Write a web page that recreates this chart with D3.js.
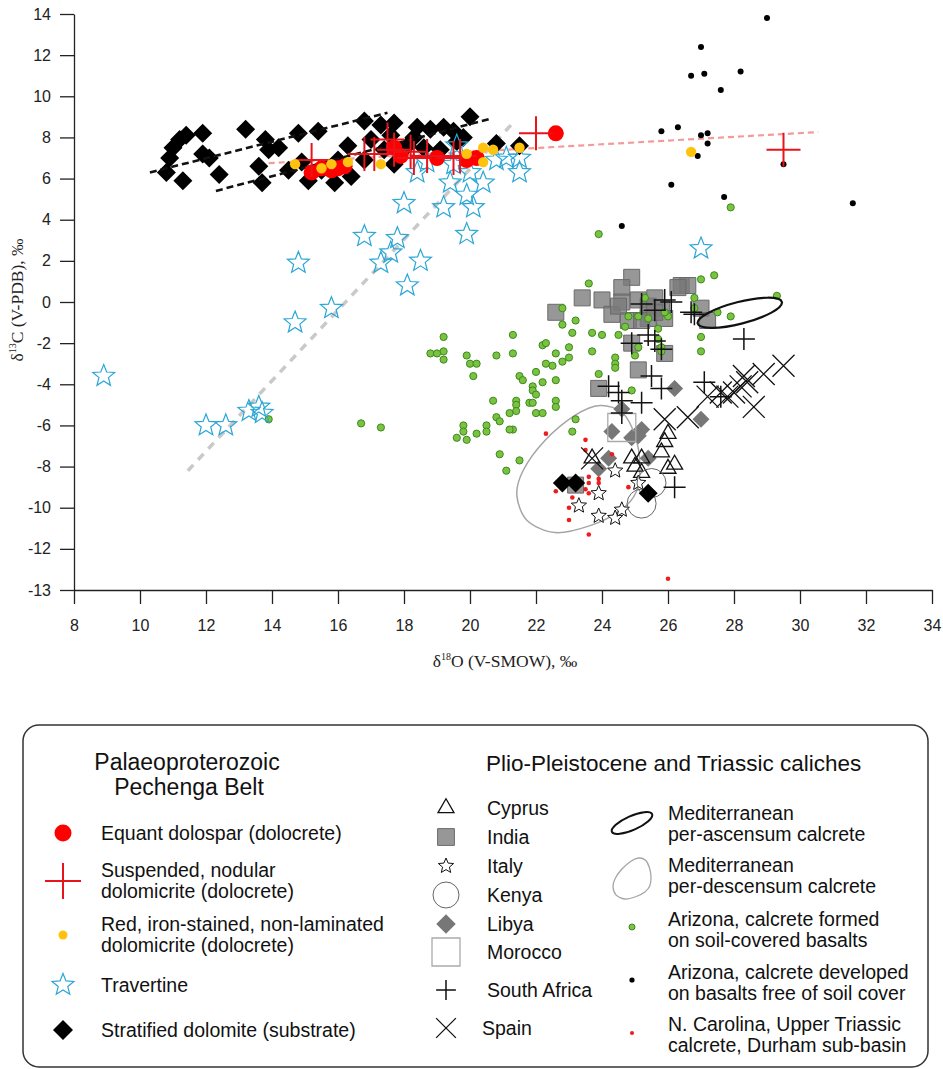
<!DOCTYPE html>
<html>
<head>
<meta charset="utf-8">
<title>d13C vs d18O caliche plot</title>
<script src="https://cdn.jsdelivr.net/npm/d3@7"></script>
<style>
  body { margin: 0; background: #fff; font-family: "Liberation Sans", Arial, sans-serif; }
</style>
</head>
<body>
<script>
// axis ticks (bottom label of the y axis reads -13 in the source figure)
const xTicks = d3.range(8, 35, 2);
const yTicks = [14, 12, 10, 8, 6, 4, 2, 0, -2, -4, -6, -8, -10, -12, -14];
const yTickLabels = ["14", "12", "10", "8", "6", "4", "2", "0", "-2", "-4", "-6", "-8", "-10", "-12", "-13"];

// Pechenga Belt  [d18O, d13C]
const stratifiedDolomite = [[10.8,6.3],[10.9,7.0],[11.0,7.5],[11.2,7.9],[11.4,8.1],[11.9,8.2],[11.9,7.2],[12.1,7.0],[11.3,5.9],
  [12.4,6.2],[13.2,8.4],[13.8,7.9],[13.9,7.4],[14.2,7.5],[14.8,8.2],[15.4,8.3],[13.6,6.6],[13.7,5.8],[14.5,6.4],[15.1,5.9],
  [15.9,5.8],[16.4,6.1],[16.3,7.6],[16.8,8.8],[17.3,8.6],[17.7,8.7],[18.4,8.5],[18.8,8.4],[19.2,8.5],[19.5,8.3],[18.3,8.0],
  [19.6,7.8],[19.8,8.0],[18.1,7.6],[18.6,7.5],[20.0,9.0],[20.8,7.7],[21.5,7.6],[17.0,7.9],[17.6,8.1],[17.4,7.4],[17.9,7.3],
  [19.1,7.4],[16.8,6.9],[15.5,6.4],[14.9,6.8],[16.0,6.9],[17.7,6.7],[22.8,-8.8],[23.2,-8.8],[25.4,-9.3]];
const travertine = [[8.9,-3.6],[12.0,-6.0],[12.6,-6.0],[13.3,-5.3],[13.6,-5.1],[13.7,-5.4],[14.7,-1.0],[15.8,-0.3],[14.8,1.9],
  [16.8,3.2],[17.8,3.1],[17.6,2.4],[17.3,1.9],[18.5,2.0],[18.1,0.8],[18.0,4.8],[19.2,4.6],[19.9,3.3],[20.1,4.6],[19.9,5.2],
  [19.4,5.8],[20.4,5.8],[21.5,6.3],[18.4,6.3],[18.7,6.8],[20.8,6.9],[21.5,7.0],[27.0,2.6],[19.5,6.7],[20.0,6.3],[21.1,7.0],[19.6,7.6]];
const equantDolospar = [[22.6,8.2],[17.7,7.5],[17.9,7.1],[19.0,7.0],[19.9,6.9],[20.2,7.0],[16.0,6.5],[16.2,6.6],[15.8,6.4],[15.5,6.5],[15.2,6.3]];
const nodularDolomicrite = [[15.2,6.9],[16.8,7.2],[17.1,7.2],[17.5,7.9],[17.7,7.4],[18.2,7.3],[18.3,7.0],[18.7,7.1],[19.5,7.0],[19.7,7.1],[22.0,8.2],[29.5,7.4]];
const ironStained = [[14.7,6.7],[15.5,6.5],[15.8,6.7],[16.3,6.8],[17.3,6.7],[19.9,7.2],[20.4,7.5],[20.4,6.8],[20.7,7.4],[21.5,7.5],[26.7,7.3]];

// Plio-Pleistocene and Triassic caliches
const cyprus = [[23.7,-7.6],[24.9,-7.6],[25.2,-7.6],[25.0,-8.0],[25.2,-8.3],[25.9,-6.8],[26.0,-6.4],[25.8,-7.3],[26.2,-7.9],[26.0,-8.1]];
const india = [[24.9,1.2],[24.6,0.7],[23.4,0.2],[22.6,-0.5],[24.0,0.1],[24.3,-0.6],[24.6,0.0],[24.8,-0.9],[25.1,0.1],[25.4,-0.2],
  [25.6,0.2],[25.8,-0.3],[25.9,-0.8],[26.4,0.8],[26.6,0.8],[26.3,0.7],[27.0,-0.3],[27.2,-0.9],[25.4,-0.8],[24.9,-2.0],[25.9,-2.5],
  [25.1,-3.3],[23.9,-4.2],[23.2,-8.9],[24.5,-0.2],[25.2,-0.9],[25.6,-0.5]];
const italy = [[24.4,-8.2],[23.9,-9.3],[23.3,-9.9],[23.9,-10.4],[24.4,-10.5],[24.6,-10.1],[25.1,-8.8]];
const kenya = [[25.5,-8.8],[25.2,-9.8]];
const libya = [[26.2,-4.2],[27.0,-5.7],[24.6,-5.2],[24.3,-6.3],[25.2,-6.2],[25.1,-6.5],[24.9,-6.6],[24.2,-7.6],[23.9,-8.1],[25.4,-7.6]];
const morocco = [[24.6,-6.1]];
const southAfrica = [[25.2,-0.1],[25.6,-0.4],[25.9,0.1],[26.1,0.0],[26.7,-0.5],[25.4,-1.6],[25.6,-1.9],[24.9,-2.0],[25.8,-2.3],
  [25.5,-3.6],[25.8,-4.2],[24.2,-4.1],[24.5,-4.4],[24.6,-4.8],[25.2,-4.9],[24.6,-5.4],[27.1,-3.9],[27.6,-4.6],[28.3,-1.8],[26.2,-9.0],[26.8,-0.6]];
const spain = [[29.5,-3.1],[28.9,-3.5],[28.3,-3.6],[28.4,-3.9],[28.2,-4.1],[28.0,-4.4],[27.8,-4.6],[27.6,-4.4],[28.6,-5.1],[27.2,-4.6],[26.6,-5.6],[25.9,-5.7],[23.7,-7.6]];
const arizonaSoil = [[23.9,3.3],[23.6,0.9],[22.8,-0.3],[23.2,-0.9],[22.8,-1.1],[23.1,-1.5],[23.7,-1.5],[24.0,-1.6],[24.5,-1.6],[24.8,-0.7],
  [24.7,-1.2],[25.3,0.2],[25.1,-0.7],[25.4,-0.8],[25.7,-1.3],[26.0,-0.7],[25.9,-0.5],[27.0,1.1],[27.4,1.3],[26.8,0.2],[26.8,-0.3],
  [27.5,-0.5],[27.9,-0.7],[27.0,-1.7],[27.0,-2.4],[25.7,-1.8],[25.8,-2.2],[25.1,-2.2],[25.0,-2.6],[24.4,-2.7],[24.4,-3.0],[24.4,-3.2],
  [23.9,-3.5],[24.9,-4.3],[23.2,-5.7],[19.2,-1.7],[19.2,-2.4],[19.2,-2.8],[18.8,-2.5],[19.0,-2.5],[19.9,-2.6],[20.0,-3.0],[20.2,-3.0],
  [20.1,-3.6],[20.8,-2.6],[21.3,-1.6],[21.3,-2.5],[22.2,-2.1],[22.3,-2.0],[22.6,-2.5],[23.0,-2.2],[23.0,-2.7],[22.8,-2.9],[22.3,-3.0],
  [22.5,-3.1],[23.7,-2.4],[22.0,-3.4],[21.5,-3.6],[21.6,-3.8],[22.2,-3.9],[22.6,-3.8],[21.9,-4.1],[21.9,-4.3],[22.0,-4.5],[21.8,-4.9],
  [21.9,-4.9],[20.7,-4.8],[21.4,-4.8],[21.4,-5.0],[21.4,-5.3],[21.2,-5.4],[22.0,-5.4],[22.2,-5.4],[22.6,-4.8],[22.6,-5.1],[20.8,-5.6],
  [20.9,-5.8],[20.5,-6.0],[20.5,-6.3],[19.8,-6.0],[19.8,-6.3],[19.6,-6.6],[19.9,-6.7],[20.2,-6.4],[21.3,-6.2],[16.7,-5.9],[17.3,-6.1],
  [13.9,-5.7],[23.1,-6.3],[20.9,-7.4],[21.5,-7.7],[21.1,-8.2],[21.2,-6.2],[27.9,4.6],[29.3,0.3],[25.8,-2.4]];
const arizonaBare = [[29.0,13.8],[27.0,12.4],[26.7,11.0],[27.1,11.1],[28.2,11.2],[27.6,10.3],[25.8,8.3],[26.3,8.5],[27.0,8.1],
  [27.2,8.2],[27.2,7.7],[26.9,7.1],[26.1,5.7],[27.7,5.1],[29.5,6.7],[31.6,4.8],[24.6,3.7]];
const northCarolina = [[22.3,-6.4],[23.5,-6.7],[23.5,-7.2],[24.3,-7.4],[23.6,-8.5],[23.9,-8.6],[23.9,-8.8],[23.6,-8.8],[23.5,-9.1],
  [23.6,-9.3],[22.8,-9.0],[22.6,-9.2],[23.1,-9.5],[23.0,-10.0],[23.0,-10.6],[23.6,-11.3],[24.8,-9.0],[26.0,-13.45]];

// fields and trends
const perAscensumAxis = [[26.9,-1.05],[29.45,0.0]];   // ends of the long axis
const perDescensumOutline = [[23.94,-5.03],[24.61,-5.37],[25.0,-6.49],[25.15,-7.95],[25.03,-9.26],[24.55,-10.14],[23.64,-10.87],
  [22.58,-11.21],[21.73,-10.62],[21.42,-9.41],[21.61,-8.19],[22.27,-6.73],[23.18,-5.51]];
const dolomiteTrends = [[[10.3,6.3],[17.5,9.2]], [[12.3,5.4],[20.6,8.9]]];
const dolocreteTrend = [[13.9,6.75],[30.55,8.26]];
const travertineTrend = [[11.45,-8.2],[21.3,8.7]];

const W = 943, H = 1069;
const svg = d3.select("body").append("svg").attr("width", W).attr("height", H);

const x = d3.scaleLinear().domain([8, 34]).range([74, 932]);
const y = d3.scaleLinear().domain([-14, 14]).range([590, 14]);

// symbol paths
function diamond(h){ return `M0,${-h}L${h},0L0,${h}L${-h},0Z`; }
function square(s){ return `M${-s/2},${-s/2}h${s}v${s}h${-s}Z`; }
function plus(h){ return `M${-h},0H${h}M0,${-h}V${h}`; }
function cross(h){ return `M${-h},${-h}L${h},${h}M${-h},${h}L${h},${-h}`; }
function triangle(s){ const hh = s*Math.sqrt(3)/2; return `M0,${-hh*2/3}L${s/2},${hh/3}L${-s/2},${hh/3}Z`; }
function star(R, r){
  let p = [];
  for (let i = 0; i < 10; i++) {
    const a = -Math.PI/2 + i*Math.PI/5, rr = i % 2 ? r : R;
    p.push([rr*Math.cos(a), rr*Math.sin(a)]);
  }
  return "M" + p.map(d => d[0].toFixed(2) + "," + d[1].toFixed(2)).join("L") + "Z";
}

const styles = {
  strat:   {d: diamond(9.5), fill: "#000"},
  trav:    {d: star(11.5, 5), fill: "none", stroke: "#2ba6d6", sw: 1.2},
  equant:  {circle: 8, fill: "#ff0000"},
  nodular: {d: plus(17), fill: "none", stroke: "#e8141c", sw: 2},
  iron:    {circle: 5.2, fill: "#ffc20e"},
  cyprus:  {d: triangle(16), fill: "none", stroke: "#111", sw: 1.3},
  india:   {d: square(16), fill: "#7a7a7a", fo: 0.78, stroke: "#6a6a6a", sw: 1},
  italy:   {d: star(8, 3.6), fill: "#fff", stroke: "#111", sw: 1},
  kenya:   {circle: 14.5, fill: "none", stroke: "#666", sw: 1},
  libya:   {d: diamond(8.5), fill: "#777"},
  morocco: {d: square(28), fill: "none", stroke: "#aaa", sw: 1.3},
  safrica: {d: plus(11), fill: "none", stroke: "#111", sw: 1.5},
  spain:   {d: cross(11), fill: "none", stroke: "#111", sw: 1.3},
  azSoil:  {circle: 3.6, fill: "#7cc242", stroke: "#3b8a1c", sw: 1},
  azBare:  {circle: 3, fill: "#000"},
  nc:      {circle: 2.3, fill: "#ee1c1c"}
};

function applyStyle(sel, st){
  sel.attr("fill", st.fill)
     .attr("fill-opacity", st.fo || 1)
     .attr("stroke", st.stroke || "none")
     .attr("stroke-width", st.sw || 0);
}

function drawSeries(g, data, st){
  let sel;
  if (st.circle) {
    sel = g.append("g").selectAll("circle").data(data).join("circle")
      .attr("cx", d => x(d[0])).attr("cy", d => y(d[1])).attr("r", st.circle);
  } else {
    sel = g.append("g").selectAll("path").data(data).join("path")
      .attr("d", st.d).attr("transform", d => `translate(${x(d[0])},${y(d[1])})`);
  }
  applyStyle(sel, st);
}

function legendSymbol(g, cx, cy, st, scale){
  let el;
  if (st.circle) el = g.append("circle").attr("cx", cx).attr("cy", cy).attr("r", scale);
  else el = g.append("path").attr("d", st.d).attr("transform", `translate(${cx},${cy}) scale(${scale})`);
  applyStyle(el, st);
  if (!st.circle) el.attr("stroke-width", (st.sw || 0) / scale);
}

// ---- axes
const axisFont = "'Liberation Sans', Arial, sans-serif";
const gx = svg.append("g").attr("transform", "translate(0,590)")
  .call(d3.axisBottom(x).tickValues(xTicks).tickSize(14).tickSizeOuter(0).tickPadding(16).tickFormat(d3.format("d")));
const gy = svg.append("g").attr("transform", "translate(74,0)")
  .call(d3.axisLeft(y).tickValues(yTicks).tickSize(14).tickSizeOuter(0).tickPadding(9)
        .tickFormat((d, i) => yTickLabels[i]));
[gx, gy].forEach(g => {
  g.selectAll("path.domain").attr("stroke", "#222").attr("stroke-width", 1.3);
  g.selectAll(".tick line").attr("stroke", "#222").attr("stroke-width", 1.3);
  g.selectAll(".tick text").attr("fill", "#222").style("font-size", "16px").style("font-family", axisFont);
});

const serif = "'Liberation Serif', 'Times New Roman', serif";
const xt = svg.append("text").attr("x", 505).attr("y", 667).attr("text-anchor", "middle")
  .style("font-family", serif).style("font-size", "17.5px").attr("fill", "#222");
xt.append("tspan").text("δ");
xt.append("tspan").attr("dy", -7).style("font-size", "10px").text("18");
xt.append("tspan").attr("dy", 7).text("O (V-SMOW), ‰");

const yt = svg.append("text").attr("transform", "translate(23,300) rotate(-90)").attr("text-anchor", "middle")
  .style("font-family", serif).style("font-size", "17.5px").attr("fill", "#222");
yt.append("tspan").text("δ");
yt.append("tspan").attr("dy", -7).style("font-size", "10px").text("13");
yt.append("tspan").attr("dy", 7).text("C (V-PDB), ‰");

// ---- plot
const plot = svg.append("g");
const line = d3.line().x(d => x(d[0])).y(d => y(d[1]));

plot.append("path").attr("d", line(travertineTrend)).attr("fill", "none")
  .attr("stroke", "#c9c9c9").attr("stroke-width", 3.5).attr("stroke-dasharray", "8,7");
plot.append("path").attr("d", line(dolocreteTrend)).attr("fill", "none")
  .attr("stroke", "#f49a9a").attr("stroke-width", 2.2).attr("stroke-dasharray", "6,4");

// per-descensum field
plot.append("path")
  .attr("d", d3.line().x(d => x(d[0])).y(d => y(d[1])).curve(d3.curveCardinalClosed.tension(0.1))(perDescensumOutline))
  .attr("fill", "none").attr("stroke", "#a5a5a5").attr("stroke-width", 1.5);

drawSeries(plot, india, styles.india);
drawSeries(plot, libya, styles.libya);
drawSeries(plot, morocco, styles.morocco);
drawSeries(plot, cyprus, styles.cyprus);
drawSeries(plot, italy, styles.italy);
drawSeries(plot, kenya, styles.kenya);
drawSeries(plot, arizonaSoil, styles.azSoil);
drawSeries(plot, arizonaBare, styles.azBare);
drawSeries(plot, northCarolina, styles.nc);
drawSeries(plot, southAfrica, styles.safrica);
drawSeries(plot, spain, styles.spain);

drawSeries(plot, stratifiedDolomite, styles.strat);
dolomiteTrends.forEach(t => plot.append("path").attr("d", line(t)).attr("fill", "none")
  .attr("stroke", "#111").attr("stroke-width", 2.6).attr("stroke-dasharray", "7,4"));
drawSeries(plot, travertine, styles.trav);
drawSeries(plot, equantDolospar, styles.equant);
drawSeries(plot, nodularDolomicrite, styles.nodular);
drawSeries(plot, ironStained, styles.iron);

// per-ascensum field: ellipse built on its long axis
{
  const p1 = [x(perAscensumAxis[0][0]), y(perAscensumAxis[0][1])];
  const p2 = [x(perAscensumAxis[1][0]), y(perAscensumAxis[1][1])];
  const a = Math.hypot(p2[0]-p1[0], p2[1]-p1[1]) / 2;
  const ang = Math.atan2(p2[1]-p1[1], p2[0]-p1[0]) * 180 / Math.PI;
  plot.append("ellipse").attr("cx", 0).attr("cy", 0).attr("rx", a).attr("ry", a*0.25)
    .attr("transform", `translate(${(p1[0]+p2[0])/2},${(p1[1]+p2[1])/2}) rotate(${ang})`)
    .attr("fill", "none").attr("stroke", "#111").attr("stroke-width", 2.2);
}

// ---- legend
const lg = svg.append("g");
lg.append("rect").attr("x", 23).attr("y", 725).attr("width", 905).attr("height", 342).attr("rx", 16)
  .attr("fill", "#fff").attr("stroke", "#333").attr("stroke-width", 1.5);

function txt(xp, yp, lines, size, anchor){
  const t = lg.append("text").attr("x", xp).attr("y", yp).attr("text-anchor", anchor || "start")
    .style("font-size", size + "px").attr("fill", "#111");
  lines.forEach((l, i) => t.append("tspan").attr("x", xp).attr("dy", i ? size*1.1 : 0).text(l));
}

txt(187, 770, ["Palaeoproterozoic"], 23, "middle");
txt(189, 795, ["Pechenga Belt"], 23, "middle");

const leftItems = [
  {st: styles.equant, s: 8.5, y: 833, lines: ["Equant dolospar (dolocrete)"]},
  {st: styles.nodular, s: 18/17, y: 881, lines: ["Suspended, nodular", "dolomicrite (dolocrete)"]},
  {st: styles.iron, s: 4.5, y: 935, lines: ["Red, iron-stained, non-laminated", "dolomicrite (dolocrete)"]},
  {st: styles.trav, s: 1, y: 985, lines: ["Travertine"]},
  {st: styles.strat, s: 1.05, y: 1030, lines: ["Stratified dolomite (substrate)"]}
];
leftItems.forEach(it => {
  legendSymbol(lg, 63, it.y, it.st, it.s);
  const n = it.lines.length;
  txt(101, it.y + 7 - (n - 1) * 11, it.lines, 19.5);
});

txt(486, 771, ["Plio-Pleistocene and Triassic caliches"], 22.5);

const countryItems = [
  {st: styles.cyprus, s: 1, y: 808, label: "Cyprus"},
  {st: styles.india, s: 1.05, y: 837, label: "India"},
  {st: styles.italy, s: 1, y: 866, label: "Italy"},
  {st: styles.kenya, s: 13, y: 895, label: "Kenya"},
  {st: styles.libya, s: 1.15, y: 924, label: "Libya"},
  {st: styles.morocco, s: 1, y: 952, label: "Morocco"},
  {st: styles.safrica, s: 0.9, y: 990, label: "South Africa"},
  {st: styles.spain, s: 0.9, y: 1028, label: "Spain"}
];
countryItems.forEach(it => {
  legendSymbol(lg, 446, it.y, it.st, it.s);
  txt(it.label === "Spain" ? 482 : 487, it.y + 7, [it.label], 19.5);
});

// field icons
lg.append("ellipse").attr("rx", 22).attr("ry", 7)
  .attr("transform", "translate(632,823) rotate(-24)")
  .attr("fill", "none").attr("stroke", "#111").attr("stroke-width", 2);
{
  const pts = perDescensumOutline.map(d => [x(d[0]), y(d[1])]);
  const ex = d3.extent(pts, d => d[0]), ey = d3.extent(pts, d => d[1]);
  const sx = d3.scaleLinear().domain(ex).range([613, 651]);
  const sy = d3.scaleLinear().domain(ey).range([858, 899]);
  lg.append("path")
    .attr("d", d3.line().x(d => sx(d[0])).y(d => sy(d[1])).curve(d3.curveCardinalClosed.tension(0.1))(pts))
    .attr("fill", "none").attr("stroke", "#a5a5a5").attr("stroke-width", 1.3);
}
legendSymbol(lg, 632, 927, styles.azSoil, 3);
legendSymbol(lg, 632, 980, styles.azBare, 2.6);
legendSymbol(lg, 632, 1033, styles.nc, 2);

const rightItems = [
  {y: 823, lines: ["Mediterranean", "per-ascensum calcrete"]},
  {y: 875, lines: ["Mediterranean", "per-descensum calcrete"]},
  {y: 929, lines: ["Arizona, calcrete formed", "on soil-covered basalts"]},
  {y: 982, lines: ["Arizona, calcrete developed", "on basalts free of soil cover"]},
  {y: 1034, lines: ["N. Carolina, Upper Triassic", "calcrete, Durham sub-basin"]}
];
rightItems.forEach(it => txt(668, it.y - 3, it.lines, 19.5));
</script>
</body>
</html>
